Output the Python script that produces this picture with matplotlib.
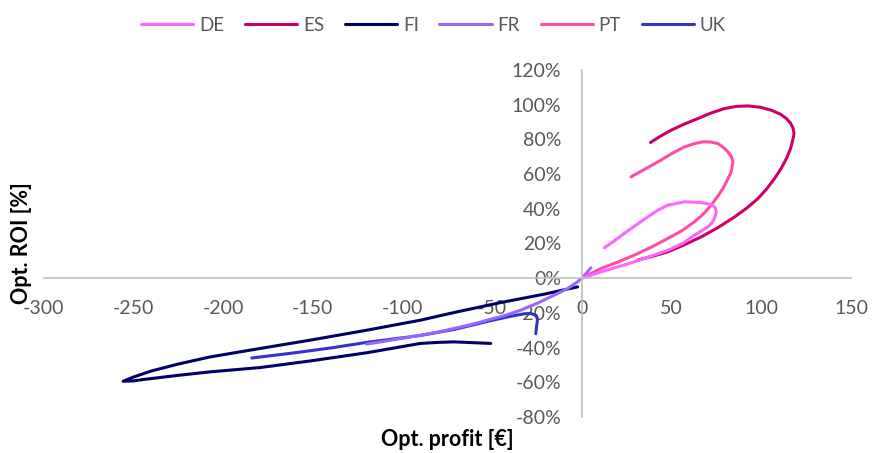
import matplotlib
matplotlib.use('Agg')
import matplotlib.pyplot as plt
from matplotlib.ticker import FuncFormatter

plt.rcParams['font.family'] = ['Lato', 'DejaVu Sans']
plt.rcParams['axes.unicode_minus'] = False

# Opt. profit [€] (x) and Opt. ROI [%] (y) per country
de_x = [0, 10.6, 20, 29.2, 38, 47.9, 56, 62.7, 67, 70.2, 72.5, 73.9, 74.9, 74.2, 72.1,
        66.5, 57.2, 47.9, 42, 36.7, 30, 23.6, 18, 12.5]
de_y = [0, 3.6, 6.5, 9.4, 12.5, 16.1, 20, 24.8, 27.5, 29.6, 32, 34.4, 38.2, 40.8, 42.5,
        43.6, 44, 42.1, 39, 35.3, 30.5, 25.8, 21.5, 17.5]

es_x = [31.1, 40, 47.9, 57, 66.5, 76, 85.1, 92, 98.1, 103, 107.4, 111, 114, 116.3, 117.7,
        118.2, 117.7, 116.3, 114, 110.5, 105.6, 99.5, 92.6, 86, 79.5, 72, 64.6, 57, 49.7,
        43.5, 38.2]
es_y = [10.4, 12.8, 15.2, 19.2, 23.8, 29.3, 35.3, 40.5, 45.9, 51.5, 57.5, 63.2, 69, 74.8,
        80.5, 83.4, 86.3, 89.3, 92, 94.6, 96.8, 98.5, 99.3, 99, 97.8, 95.2, 92, 88.8,
        85.3, 81.7, 78.2]

fi_x = [-2.4, -20, -45, -70, -90, -120, -151.4, -179.3, -207.3, -225, -240, -250, -255.7,
        -250, -244.5, -225, -207.3, -179.3, -151.4, -120, -90, -80, -71.3, -60, -50.8]
fi_y = [-5, -9, -14, -19.5, -24.2, -30, -35.7, -40.5, -45.4, -49.5, -53.5, -57, -59.4,
        -59.2, -58.4, -56, -54, -51.5, -47.7, -43, -37.6, -37, -36.7, -37.2, -37.6]

fr_x = [5, 3, 0, -2.4, -8, -15.5, -25, -34, -43, -52.7, -62, -71.3, -80, -90, -105, -120]
fr_y = [6, 3.5, 0, -2.1, -6, -9.8, -14.5, -18.4, -21.5, -24.2, -26.8, -29, -31, -32.9,
        -35.5, -38]

pt_x = [0, 10.6, 20, 29.2, 38.5, 47.9, 56, 62.7, 68, 72.1, 75.5, 78.6, 81, 83.2, 84.2,
        83.3, 81.4, 78.8, 75.8, 71.8, 67.4, 62.5, 57.2, 50, 42.3, 35, 27.4]
pt_y = [0, 5.6, 9.3, 13.3, 17.8, 22.9, 27.6, 32.5, 37.3, 42.1, 46.9, 51.7, 56.5, 61.3, 67,
        70, 72.8, 75.4, 77.6, 78.5, 78.6, 77.5, 75.7, 71.8, 67, 62.8, 58.4]

uk_x = [-184, -160, -138.5, -120, -101, -90, -71, -53, -40, -32, -28.5, -25.5, -24.7,
        -25.3, -25.7]
uk_y = [-46, -43, -40, -37, -34.5, -33, -29.5, -25, -22, -20.5, -20.3, -21.5, -23.5,
        -28, -32]

countries = ['DE', 'ES', 'FI', 'FR', 'PT', 'UK']
colours = ['#FF66FF', '#CC0066', '#000066', '#9966FF', '#FF4DA6', '#3333CC']
series = [(de_x, de_y), (es_x, es_y), (fi_x, fi_y), (fr_x, fr_y), (pt_x, pt_y), (uk_x, uk_y)]

fig = plt.figure(figsize=(8.72, 4.53), dpi=100)
ax = fig.add_axes([0.05, 0.0795, 0.926, 0.766])

# draw order so FR sits over UK near the origin
order = [2, 5, 3, 1, 4, 0]
lines = {}
for i in order:
    x, y = series[i]
    line, = ax.plot(x, [v / 100 for v in y], color=colours[i], lw=2.2,
                    solid_capstyle='round', solid_joinstyle='round', label=countries[i])
    lines[i] = line

ax.set_xlim(-300, 150)
ax.set_ylim(-0.8, 1.2)
ax.set_xticks(range(-300, 151, 50))
ax.set_yticks([v / 100 for v in range(-80, 121, 20)])
ax.yaxis.set_major_formatter(FuncFormatter(lambda v, _: f'{v * 100:.0f}%'))

for side in ['top', 'right']:
    ax.spines[side].set_visible(False)
for side in ['left', 'bottom']:
    ax.spines[side].set_position(('data', 0))
    ax.spines[side].set_color('#BFBFBF')
    ax.spines[side].set_linewidth(1.2)

ax.tick_params(axis='x', length=0, pad=16, labelsize=14, labelcolor='#595959')
ax.tick_params(axis='y', length=0, pad=15, labelsize=14, labelcolor='#595959')

ax.set_xlabel('Opt. profit [€]', fontsize=15.5, fontweight='bold')
ax.set_ylabel('Opt. ROI [%]', fontsize=15.5, fontweight='bold')
ax.xaxis.set_label_coords(0.50, -0.036)
ax.yaxis.set_label_coords(-0.014, 0.50)

fig.legend([lines[i] for i in range(6)], countries, loc='upper center',
           bbox_to_anchor=(0.497, 1.0), ncol=6, frameon=False, fontsize=13.5,
           handlelength=2.8, columnspacing=1.1, handletextpad=0.3, labelcolor='#595959')

fig.savefig('out.png', dpi=100)
